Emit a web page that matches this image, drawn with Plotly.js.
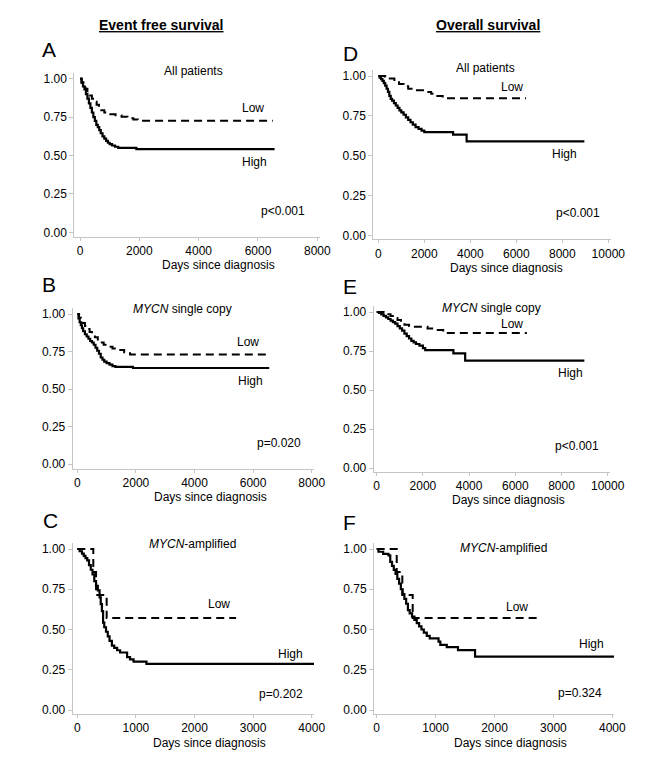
<!DOCTYPE html>
<html>
<head>
<meta charset="utf-8">
<script src="https://cdn.plot.ly/plotly-3.0.1.min.js"></script>
<style>html,body{margin:0;padding:0;background:#fff;}#chart{width:650px;height:773px;}</style>
</head>
<body>
<div id="chart"></div>
<script>
// ---------------- DATA ----------------
// Panel A: Event free survival, all patients
const efsAllHighDays = [0,50,100,150,200,250,300,350,400,450,500,550,600,650,700,760,820,880,940,1000,1080,1180,1290,1900,6560];
const efsAllHighSurv = [1,0.975,0.95,0.93,0.90,0.87,0.84,0.81,0.78,0.75,0.725,0.70,0.685,0.665,0.645,0.625,0.61,0.595,0.583,0.574,0.565,0.557,0.549,0.541,0.541];
const efsAllLowDays  = [0,60,120,180,250,320,400,480,560,640,720,820,920,1200,1400,1600,1800,1950,6500];
const efsAllLowSurv  = [1,0.975,0.955,0.935,0.91,0.89,0.87,0.85,0.83,0.81,0.795,0.78,0.768,0.762,0.752,0.742,0.735,0.727,0.727];

// Panel B: Event free survival, MYCN single copy
const efsSingleHighDays = [0,40,80,120,160,200,260,320,380,440,500,560,620,680,740,800,860,920,1000,1100,1200,1300,1900,6550];
const efsSingleHighSurv = [1,0.97,0.945,0.925,0.905,0.885,0.865,0.85,0.835,0.82,0.81,0.795,0.775,0.755,0.735,0.71,0.695,0.683,0.672,0.662,0.652,0.647,0.64,0.64];
const efsSingleLowDays  = [0,60,120,180,260,340,420,500,600,700,800,900,1000,1200,1400,1600,1800,6460];
const efsSingleLowSurv  = [1,0.975,0.955,0.94,0.92,0.9,0.88,0.865,0.845,0.83,0.81,0.795,0.782,0.77,0.76,0.745,0.73,0.73];

// Panel C: Event free survival, MYCN-amplified
const efsAmpHighDays = [0,40,80,110,140,170,200,230,260,290,320,350,380,400,420,440,460,490,520,550,590,630,680,730,780,850,900,960,1180,4060];
const efsAmpHighSurv = [1,0.986,0.971,0.957,0.943,0.929,0.9,0.871,0.843,0.8,0.771,0.743,0.7,0.657,0.614,0.543,0.514,0.486,0.457,0.429,0.4,0.386,0.371,0.357,0.357,0.329,0.314,0.3,0.286,0.286];
const efsAmpLowDays  = [0,273,320,501,2710];
const efsAmpLowSurv  = [1,0.857,0.714,0.571,0.571];

// Panel D: Overall survival, all patients
const osAllHighDays = [0,60,120,180,240,300,360,420,480,540,600,680,760,840,920,1000,1100,1200,1300,1400,1500,1620,1750,1880,2000,3250,3840,8960];
const osAllHighSurv = [1,0.99,0.98,0.97,0.955,0.94,0.92,0.90,0.875,0.857,0.845,0.83,0.815,0.80,0.785,0.772,0.757,0.74,0.725,0.71,0.695,0.68,0.668,0.658,0.648,0.632,0.59,0.59];
const osAllLowDays  = [0,300,500,700,900,1100,1300,1500,2000,2300,2500,2800,6420];
const osAllLowSurv  = [1,0.995,0.985,0.968,0.95,0.935,0.92,0.91,0.9,0.888,0.875,0.86,0.86];

// Panel E: Overall survival, MYCN single copy
const osSingleHighDays = [0,100,200,300,400,500,600,700,800,900,1000,1100,1200,1300,1400,1500,1600,1700,1850,2000,2100,3320,3830,8990];
const osSingleHighSurv = [1,0.995,0.985,0.975,0.965,0.955,0.945,0.935,0.925,0.91,0.895,0.88,0.862,0.845,0.83,0.815,0.805,0.795,0.785,0.768,0.756,0.735,0.688,0.688];
const osSingleLowDays  = [0,300,450,600,750,900,1050,1200,1400,1600,2200,2400,2880,6500];
const osSingleLowSurv  = [1,0.995,0.985,0.975,0.962,0.948,0.932,0.918,0.91,0.905,0.895,0.885,0.866,0.866];

// Panel F: Overall survival, MYCN-amplified
const osAmpHighDays = [0,30,110,200,230,260,290,320,350,380,410,440,470,500,530,560,600,640,680,720,760,800,850,900,1050,1080,1190,1380,1670,4060];
const osAmpHighSurv = [1,0.983,0.97,0.96,0.92,0.895,0.87,0.845,0.815,0.785,0.75,0.72,0.69,0.66,0.62,0.6,0.58,0.56,0.54,0.52,0.5,0.48,0.46,0.445,0.425,0.405,0.39,0.372,0.331,0.331];
const osAmpLowDays  = [0,340,435,611,2716];
const osAmpLowSurv  = [1,0.857,0.714,0.571,0.571];

// Tick labels
const yTickVals = [0,0.25,0.5,0.75,1];
const xTicks8000 = [0,2000,4000,6000,8000];
const xTicks10000 = [0,2000,4000,6000,8000,10000];
const xTicks4000 = [0,1000,2000,3000,4000];

// Text
const columnTitles = ["Event free survival","Overall survival"];
const panelLetters = ["A","B","C","D","E","F"];
const subgroupTitles = ["All patients","<i>MYCN</i> single copy","<i>MYCN</i>-amplified"];
const pValues = ["p<0.001","p=0.020","p=0.202","p<0.001","p<0.001","p=0.324"];
const xAxisLabel = "Days since diagnosis";

// ---------------- LAYOUT ----------------
const W = 650, H = 773;
const FONT = "Arial, 'Liberation Sans', sans-serif";
const AXC = "#c4c4c4";

// pixel geometry for each panel
const panels = [
  {hi:[efsAllHighDays,efsAllHighSurv], lo:[efsAllLowDays,efsAllLowSurv], ticks:xTicks8000, x0:80, xm:317.3, L:74.3, R:320, y0:232.3, y1:78.7, T:73, B:236.7,
   letter:[49,50], sub:[193.5,71], low:[253,108], high:[254,162], p:[283,211], xt:[218,265]},
  {hi:[efsSingleHighDays,efsSingleHighSurv], lo:[efsSingleLowDays,efsSingleLowSurv], ticks:xTicks8000, x0:77.3, xm:311.7, L:72.7, R:314, y0:464, y1:314, T:308, B:469,
   letter:[49,284], sub:[183,309], low:[248,342], high:[250,381], p:[279,443], xt:[210,497]},
  {hi:[efsAmpHighDays,efsAmpHighSurv], lo:[efsAmpLowDays,efsAmpLowSurv], ticks:xTicks4000, x0:77.3, xm:311.7, L:72.7, R:314, y0:710, y1:549, T:543, B:714,
   letter:[50,520], sub:[192,544], low:[219,604], high:[290,654], p:[281,694], xt:[209,743]},
  {hi:[osAllHighDays,osAllHighSurv], lo:[osAllLowDays,osAllLowSurv], ticks:xTicks10000, x0:378.3, xm:608.3, L:373.3, R:611, y0:235.5, y1:76, T:70, B:239.3,
   letter:[350,53], sub:[485,68], low:[512,87], high:[564,154], p:[578,213], xt:[506,268]},
  {hi:[osSingleHighDays,osSingleHighSurv], lo:[osSingleLowDays,osSingleLowSurv], ticks:xTicks10000, x0:376.7, xm:607.7, L:373.7, R:610, y0:468, y1:312, T:306, B:472,
   letter:[350,286], sub:[491,308], low:[512,324], high:[570,373], p:[577,446], xt:[508,500]},
  {hi:[osAmpHighDays,osAmpHighSurv], lo:[osAmpLowDays,osAmpLowSurv], ticks:xTicks4000, x0:376.7, xm:612.3, L:374, R:614, y0:710, y1:549, T:543, B:714,
   letter:[349,522], sub:[504,548], low:[517,607], high:[591,644], p:[580,693], xt:[510,743]}
];
const subIdx = [0,1,2,0,1,2];

const traces = [];
const layout = {
  width: W, height: H, margin:{l:0,r:0,t:0,b:0},
  paper_bgcolor:"#fff", plot_bgcolor:"#fff", showlegend:false,
  font:{family:FONT, size:12, color:"#000"},
  annotations:[]
};
function ann(text, px, py, extra){
  layout.annotations.push(Object.assign({text:text, x:px/W, y:1-py/H, xref:"paper", yref:"paper",
    showarrow:false, xanchor:"center", yanchor:"middle", font:{family:FONT,size:12,color:"#000"}}, extra||{}));
}

panels.forEach((p,i)=>{
  const n = i+1;
  const xs = "x"+(n===1?"":n), ys = "y"+(n===1?"":n);
  const xk = "xaxis"+(n===1?"":n), yk = "yaxis"+(n===1?"":n);
  const xmax = p.ticks[p.ticks.length-1];
  const k = xmax/(p.xm-p.x0);
  const xr = [(p.L-p.x0)*k, (p.R-p.x0)*k];
  const yr = [(p.y0-p.B)/(p.y0-p.y1), (p.y0-p.T)/(p.y0-p.y1)];
  layout[xk] = {domain:[p.L/W, p.R/W], range:xr, anchor:ys, tickvals:p.ticks, ticktext:p.ticks.map(String),
    showline:true, linecolor:AXC, linewidth:1, ticks:"outside", ticklen:3, tickcolor:AXC, tickwidth:1,
    showgrid:false, zeroline:false, tickfont:{family:FONT,size:12,color:"#000"}, fixedrange:true};
  layout[yk] = {domain:[1-p.B/H, 1-p.T/H], range:yr, anchor:xs, tickvals:yTickVals, tickformat:".2f",
    showline:true, linecolor:AXC, linewidth:1, ticks:"outside", ticklen:4, tickcolor:AXC, tickwidth:1,
    showgrid:false, zeroline:false, tickfont:{family:FONT,size:12,color:"#000"}, fixedrange:true};
  traces.push({x:p.lo[0], y:p.lo[1], xaxis:xs, yaxis:ys, type:"scatter", mode:"lines",
    line:{shape:"hv", color:"#000", width:2, dash:"8px,5px"}, hoverinfo:"skip"});
  traces.push({x:p.hi[0], y:p.hi[1], xaxis:xs, yaxis:ys, type:"scatter", mode:"lines",
    line:{shape:"hv", color:"#000", width:2.2}, hoverinfo:"skip"});
  ann(panelLetters[i], p.letter[0], p.letter[1], {font:{family:FONT,size:21,color:"#000"}});
  ann(subgroupTitles[subIdx[i]], p.sub[0], p.sub[1]);
  ann("Low", p.low[0], p.low[1]);
  ann("High", p.high[0], p.high[1]);
  ann(pValues[i], p.p[0], p.p[1]);
  ann(xAxisLabel, p.xt[0], p.xt[1]);
});

ann(columnTitles[0], 161.7, 25, {font:{family:FONT,size:14,color:"#000",weight:"bold",lineposition:"under"}});
ann(columnTitles[1], 488, 25, {font:{family:FONT,size:14,color:"#000",weight:"bold",lineposition:"under"}});

Plotly.newPlot("chart", traces, layout, {staticPlot:true, displayModeBar:false});
</script>
</body>
</html>
